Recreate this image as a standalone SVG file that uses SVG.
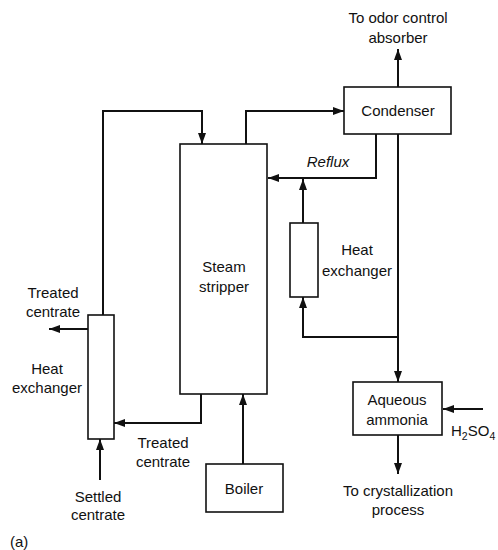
<svg xmlns="http://www.w3.org/2000/svg" width="498" height="550" viewBox="0 0 498 550">
<style>
  .box { fill: #fff; stroke: #111; stroke-width: 1.6; }
  .pipe { fill: none; stroke: #111; stroke-width: 2; marker-end: url(#arr); }
  text { font-family: "Liberation Sans", Arial, sans-serif; font-size: 15px; fill: #111; text-anchor: middle; }
  .it { font-style: italic; }
  .st { text-anchor: start; }
</style>
<defs>
  <marker id="arr" markerUnits="userSpaceOnUse" markerWidth="11" markerHeight="8" refX="11" refY="4" orient="auto">
    <path d="M0,0 L11,4 L0,8 z" fill="#111"/>
  </marker>
</defs>
<rect width="498" height="550" fill="#fff"/>
<g id="connectors">
  <path class="pipe" d="M103,315 V111 H202 V144"/>
  <path class="pipe" d="M246,144 V111 H344"/>
  <path class="pipe" d="M398,87 V49"/>
  <path class="pipe" d="M376,134 V178 H268"/>
  <path class="pipe" d="M303,223 V179"/>
  <path class="pipe" d="M398,134 V382"/>
  <path class="pipe" d="M398,337 H303 V297"/>
  <path class="pipe" d="M483,409 H443"/>
  <path class="pipe" d="M398,435 V474"/>
  <path class="pipe" d="M243,464 V394"/>
  <path class="pipe" d="M201,394 V423 H114"/>
  <path class="pipe" d="M88,329 H49"/>
  <path class="pipe" d="M100,480 V439"/>
</g>
<g id="condenser">
  <rect class="box" x="344" y="87" width="107" height="47"/>
  <text x="398" y="116">Condenser</text>
</g>
<g id="stripper">
  <rect class="box" x="180" y="144" width="87" height="250"/>
  <text x="224" y="272">Steam</text>
  <text x="224" y="292">stripper</text>
</g>
<g id="hx-right">
  <rect class="box" x="290" y="223" width="28" height="74"/>
  <text x="357" y="255">Heat</text>
  <text x="357" y="276">exchanger</text>
</g>
<g id="hx-left">
  <rect class="box" x="88" y="315" width="26" height="124"/>
  <text x="47" y="374">Heat</text>
  <text x="47" y="393">exchanger</text>
</g>
<g id="aqueous">
  <rect class="box" x="353" y="382" width="89" height="53"/>
  <text x="397" y="405">Aqueous</text>
  <text x="397" y="425">ammonia</text>
</g>
<g id="boiler">
  <rect class="box" x="206" y="464" width="77" height="48"/>
  <text x="244" y="494">Boiler</text>
</g>
<g id="labels">
  <text x="398" y="23">To odor control</text>
  <text x="398" y="43">absorber</text>
  <text class="it" x="328" y="167">Reflux</text>
  <text x="53" y="298">Treated</text>
  <text x="53" y="317">centrate</text>
  <text x="163" y="448">Treated</text>
  <text x="163" y="467">centrate</text>
  <text x="98" y="502">Settled</text>
  <text x="98" y="520">centrate</text>
  <text class="st" x="451" y="436">H<tspan font-size="10.5" dy="4">2</tspan><tspan dy="-4">SO</tspan><tspan font-size="10.5" dy="4">4</tspan></text>
  <text x="398" y="496">To crystallization</text>
  <text x="398" y="515">process</text>
  <text class="st" x="10" y="547">(a)</text>
</g>
</svg>
